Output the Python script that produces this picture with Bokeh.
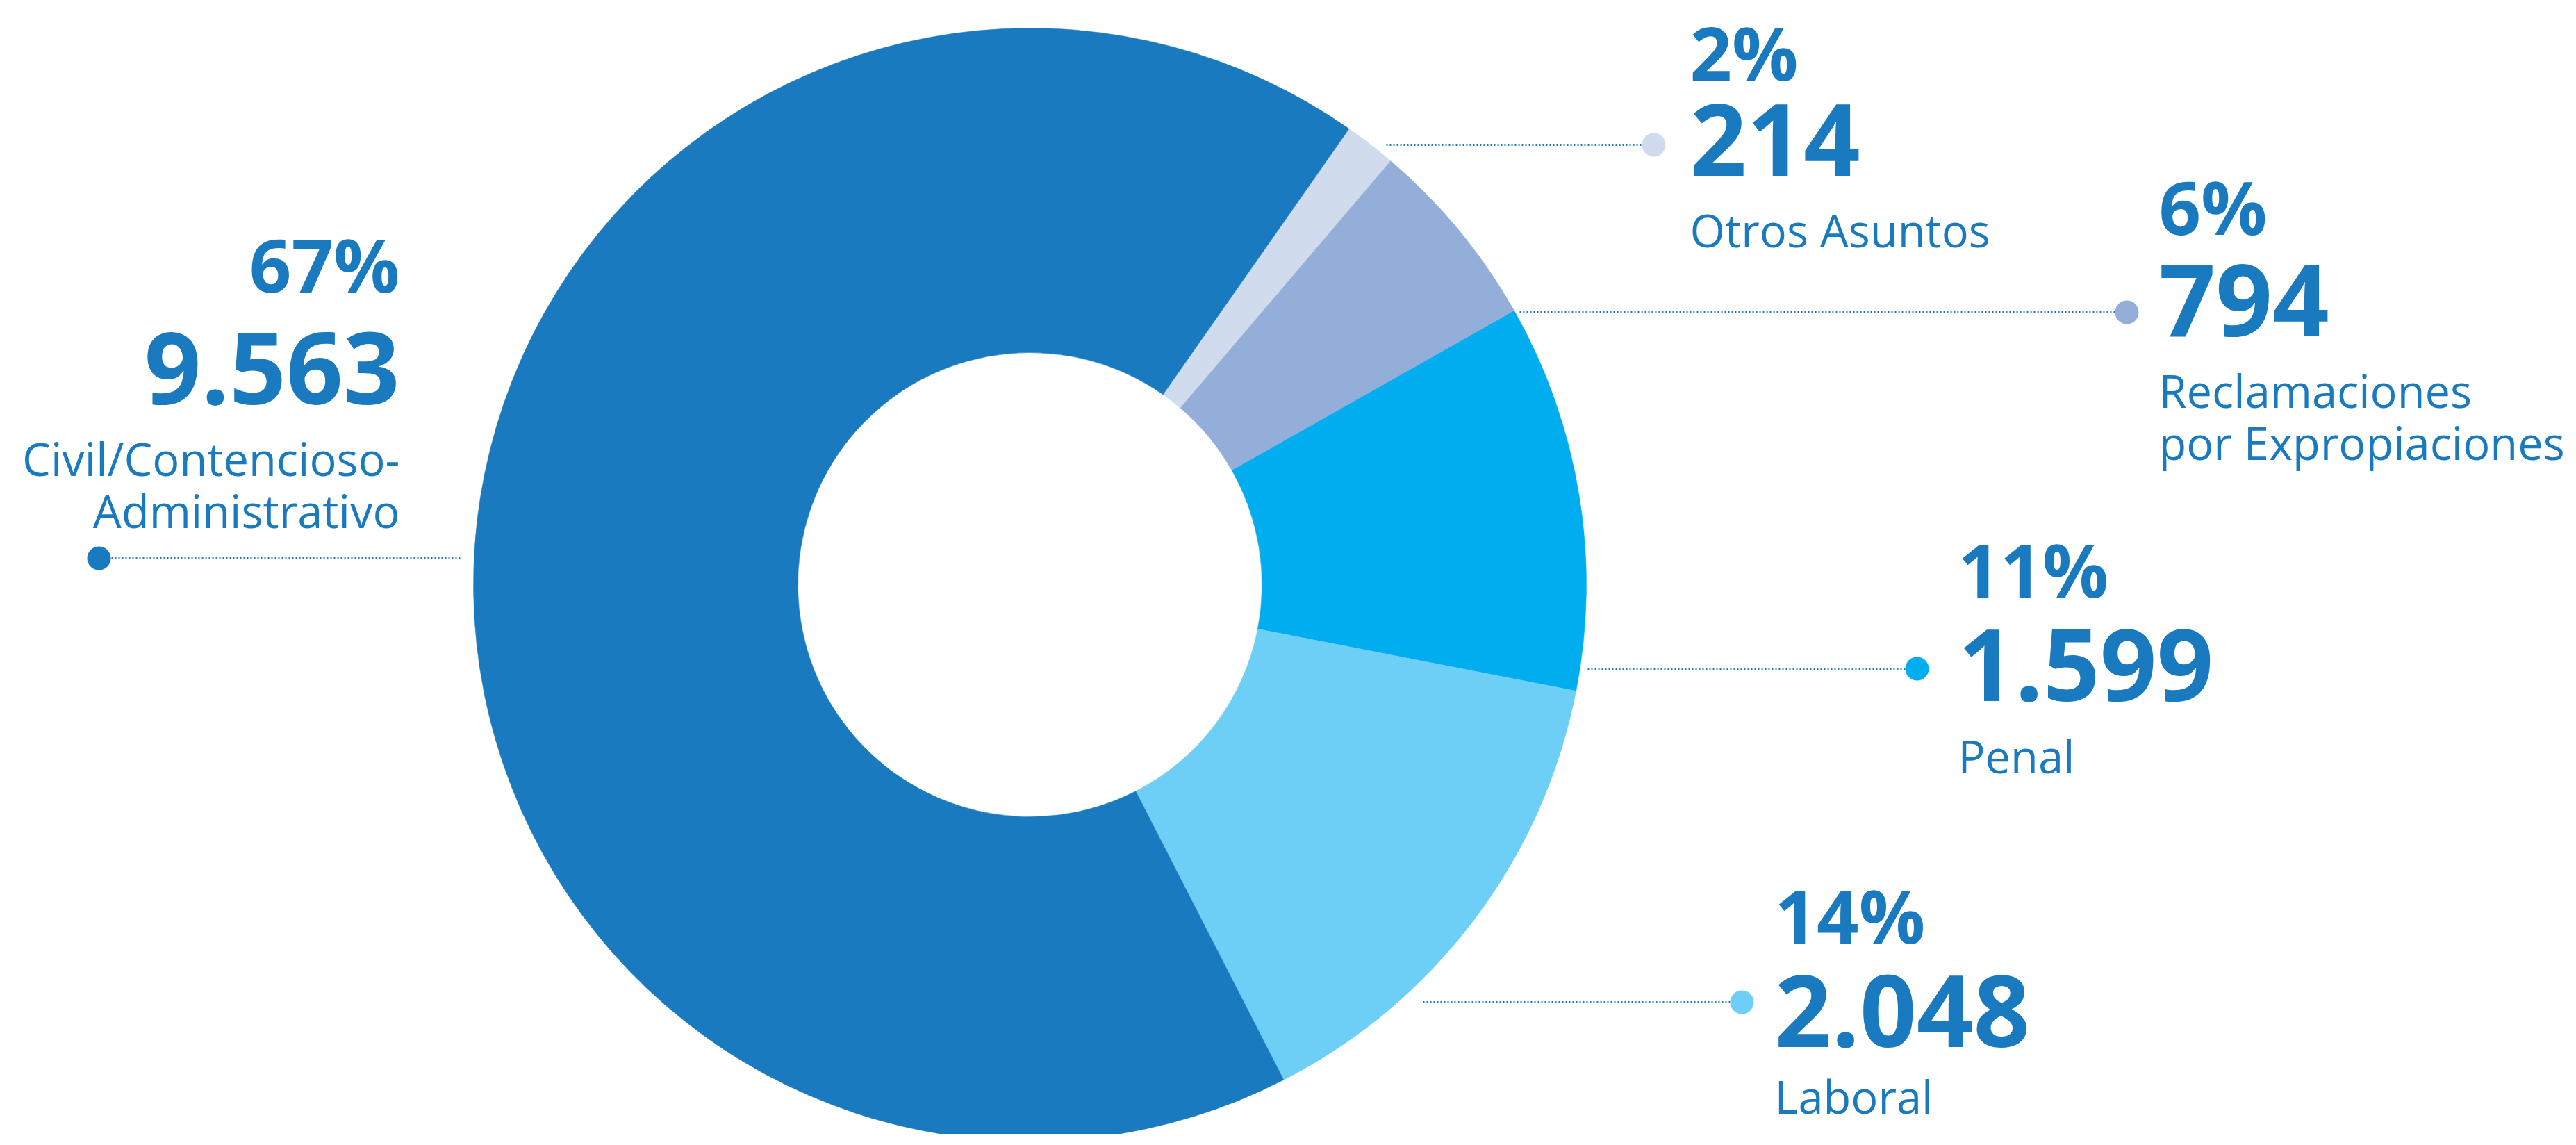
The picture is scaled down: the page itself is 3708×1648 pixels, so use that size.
import math
from bokeh.plotting import figure
from bokeh.models import ColumnDataSource, Range1d
from bokeh.core.properties import value
from bokeh.embed import file_html
from bokeh.resources import INLINE

# ---------------- data ----------------
categories = ["Otros Asuntos",
              "Reclamaciones\npor Expropiaciones",
              "Penal",
              "Laboral",
              "Civil/Contencioso-\nAdministrativo"]
counts = [214, 794, 1599, 2048, 9563]
colors = ["#d0dbee", "#93afd9", "#00aeef", "#6dcff6", "#1a7abf"]

# ---------------- layout (image pixel coordinates) ----------------
W, H = 3692, 1632
def px(X): return X - 8
def py(Y): return 1640 - Y

CX, CY = 1490, 849
R_OUT, R_IN = 801, 334
START_DEG = 35.0           # clockwise from 12 o'clock

label_x = [2440, 3115, 2826, 2562, 583]
label_align = ["left", "left", "left", "left", "right"]
pct_base = [110, 332, 854, 1352, 415]
cnt_base = [246, 477, 1002, 1500, 575]
name_base = [355, 586, 1112, 1602, 684]
NAME_STEP = 75
dot_x = [2388, 3069, 2767, 2515, 150]
dot_y = [216, 457, 970, 1450, 811]
line_x0 = [2003, 2195, 2293, 2056, 670]

PCT_FS, CNT_FS, NAME_FS = 106, 143, 65
BASE_SHIFT = 0.26          # baseline correction, fraction of font size

TEXT_COLOR = "#1a7abf"
FONT = "Open Sans"

# ---------------- figure ----------------
p = figure(width=W, height=H, output_backend="svg", toolbar_location=None,
           x_range=Range1d(0, W), y_range=Range1d(0, H),
           x_axis_type=None, y_axis_type=None, min_border=0,
           background_fill_color="white", border_fill_color="white")
p.outline_line_color = None
p.grid.visible = False

# wedges
total = float(sum(counts))
starts, ends = [], []
acc = START_DEG
for c in counts:
    sweep = c / total * 360.0
    starts.append(math.radians(90.0 - acc))
    ends.append(math.radians(90.0 - (acc + sweep)))
    acc += sweep

wsrc = ColumnDataSource(dict(x=[px(CX)] * len(counts), y=[py(CY)] * len(counts),
                             start=starts, end=ends, color=colors))
p.annular_wedge(x="x", y="y", inner_radius=R_IN, outer_radius=R_OUT,
                start_angle="start", end_angle="end", direction="clock",
                fill_color="color", line_color="color", line_width=0.5, source=wsrc)

# dotted leader lines
lx0, lx1, ly = [], [], []
for i in range(len(counts)):
    lx0.append(px(line_x0[i]))
    lx1.append(px(dot_x[i]))
    ly.append(py(dot_y[i]))
p.segment(x0=lx0, y0=ly, x1=lx1, y1=ly, line_color=TEXT_COLOR,
          line_width=3, line_dash="2 3")

# dots
p.scatter(x=[px(v) for v in dot_x], y=[py(v) for v in dot_y], size=34,
          fill_color=colors, line_color=None)

# texts
pct_labels = [f"{round(c / total * 100)}%" for c in counts]
cnt_labels = [f"{c:,}".replace(",", ".") for c in counts]

def ty(Y, fs):
    return py(Y) + BASE_SHIFT * fs

for align in ("left", "right"):
    idx = [i for i in range(len(counts)) if label_align[i] == align]
    if not idx:
        continue
    psrc = ColumnDataSource(dict(x=[px(label_x[i]) for i in idx],
                                 y=[ty(pct_base[i], PCT_FS) for i in idx],
                                 t=[pct_labels[i] for i in idx]))
    p.text(x="x", y="y", text="t", source=psrc, text_font=value(FONT),
           text_font_size=f"{PCT_FS}px", text_font_style="bold", text_color=TEXT_COLOR,
           text_align=align, text_baseline="alphabetic")
    csrc = ColumnDataSource(dict(x=[px(label_x[i]) for i in idx],
                                 y=[ty(cnt_base[i], CNT_FS) for i in idx],
                                 t=[cnt_labels[i] for i in idx]))
    p.text(x="x", y="y", text="t", source=csrc, text_font=value(FONT),
           text_font_size=f"{CNT_FS}px", text_font_style="bold", text_color=TEXT_COLOR,
           text_align=align, text_baseline="alphabetic")
    nx, ny, nt = [], [], []
    for i in idx:
        for k, line in enumerate(categories[i].split("\n")):
            nx.append(px(label_x[i]))
            ny.append(ty(name_base[i] + k * NAME_STEP, NAME_FS))
            nt.append(line)
    nsrc = ColumnDataSource(dict(x=nx, y=ny, t=nt))
    p.text(x="x", y="y", text="t", source=nsrc, text_font=value(FONT),
           text_font_size=f"{NAME_FS}px", text_font_style="normal", text_color=TEXT_COLOR,
           text_align=align, text_baseline="alphabetic")

open("out.html", "w").write(file_html(p, INLINE))
